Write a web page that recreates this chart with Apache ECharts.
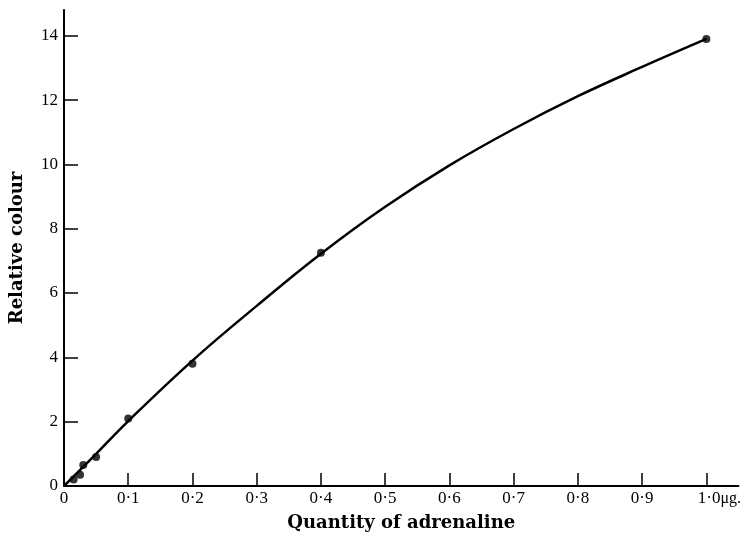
<!DOCTYPE html>
<html>
<head>
<meta charset="utf-8">
<script src="https://cdn.jsdelivr.net/npm/echarts@6/dist/echarts.min.js"></script>
<style>html,body{margin:0;padding:0;background:#fff}#c{width:744px;height:537px}</style>
</head>
<body>
<div id="c"></div>
<script>
// Measured points
const pointX = [0.015, 0.025, 0.03, 0.05, 0.1, 0.2, 0.4, 1.0];
const pointY = [0.2, 0.35, 0.65, 0.9, 2.1, 3.8, 7.25, 13.9];
// Fitted curve
const curveX = [0, 0.05, 0.1, 0.2, 0.3, 0.4, 0.5, 0.6, 0.7, 0.8, 0.9, 1.0];
const curveY = [0, 1.0, 2.02, 3.9, 5.6, 7.22, 8.68, 9.97, 11.1, 12.12, 13.03, 13.9];
// Tick labels
const xTicks = [0, 0.1, 0.2, 0.3, 0.4, 0.5, 0.6, 0.7, 0.8, 0.9, 1.0];
const xTickLabels = ['0', '0\u00B71', '0\u00B72', '0\u00B73', '0\u00B74', '0\u00B75', '0\u00B76', '0\u00B77', '0\u00B78', '0\u00B79', '1\u00B70'];
const yTicks = [0, 2, 4, 6, 8, 10, 12, 14];
const yTickLabels = ['0', '2', '4', '6', '8', '10', '12', '14'];
const xName = 'Quantity of adrenaline';
const yName = 'Relative colour';
const xUnit = '\u03BCg.';

const chart = echarts.init(document.getElementById('c'));
const serif = '"DejaVu Serif", "Liberation Serif", serif';
const tickFont = '"Liberation Serif", serif';
const axisLine = {show: true, onZero: false, lineStyle: {color: '#000', width: 2}};
chart.setOption({
  animation: false,
  backgroundColor: '#fff',
  grid: {left: 64, right: 4, top: 10, bottom: 51, containLabel: false},
  xAxis: {
    type: 'value', min: 0, max: 1.05,
    name: xName, nameLocation: 'middle', nameGap: 28,
    nameTextStyle: {fontFamily: serif, fontWeight: 'bold', fontSize: 18, color: '#000'},
    axisLine: axisLine,
    axisTick: {show: true, inside: true, length: 13, lineStyle: {color: '#000', width: 1.5}, customValues: xTicks},
    axisLabel: {
      customValues: xTicks, margin: 4, color: '#000', fontFamily: tickFont, fontSize: 17,
      formatter: function (v) {
        const i = xTicks.findIndex(t => Math.abs(t - v) < 1e-9);
        if (i < 0) return '';
        if (i === xTicks.length - 1) return '{a|' + xTickLabels[i] + '}{b|' + xUnit + '}';
        return xTickLabels[i];
      },
      rich: {
        a: {fontFamily: tickFont, fontSize: 17, color: '#000', padding: [0, 0, 0, 26]},
        b: {fontFamily: tickFont, fontSize: 16, color: '#000'}
      }
    },
    splitLine: {show: false}
  },
  yAxis: {
    type: 'value', min: 0, max: 14.8,
    name: yName, nameLocation: 'middle', nameGap: 38, nameRotate: 90,
    nameTextStyle: {fontFamily: serif, fontWeight: 'bold', fontSize: 18, color: '#000'},
    axisLine: axisLine,
    axisTick: {show: true, inside: true, length: 14, lineStyle: {color: '#000', width: 1.5}, customValues: yTicks},
    axisLabel: {
      customValues: yTicks, margin: 6, color: '#000', fontFamily: tickFont, fontSize: 17,
      formatter: function (v) {
        const i = yTicks.findIndex(t => Math.abs(t - v) < 1e-9);
        return i < 0 ? '' : yTickLabels[i];
      }
    },
    splitLine: {show: false}
  },
  series: [
    {
      type: 'line', smooth: 0.4, showSymbol: false, silent: true,
      data: curveX.map((x, i) => [x, curveY[i]]),
      lineStyle: {color: '#000', width: 2.5}
    },
    {
      type: 'scatter', symbol: 'circle', symbolSize: 8,
      data: pointX.map((x, i) => [x, pointY[i]]),
      itemStyle: {color: '#000'}
    }
  ]
});
</script>
</body>
</html>
